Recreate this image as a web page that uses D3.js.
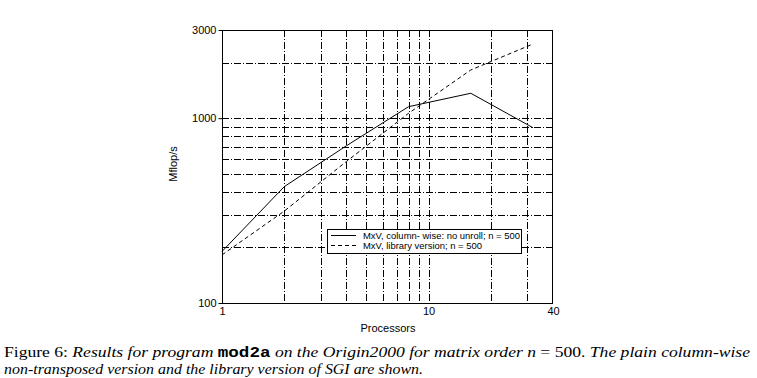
<!DOCTYPE html>
<html><head><meta charset="utf-8">
<script src="https://cdn.jsdelivr.net/npm/d3@7"></script>
<style>
html,body{margin:0;padding:0;background:#fff;}
svg{display:block;}
</style></head>
<body>
<script>
// ---- data ----
const processors = [1, 2, 4, 8, 16, 32];
const columnWise = [190, 426, 709, 1154, 1364, 888];
const libraryVersion = [182, 314, 583, 1063, 1823, 2520];
const seriesNames = ["MxV, column- wise: no unroll; n = 500", "MxV, library version; n = 500"];
const xTickLabels = [1, 10, 40];
const yTickLabels = [100, 1000, 3000];
const xGrid = [2, 3, 4, 5, 6, 7, 8, 9, 10, 20, 30];
const yGrid = [200, 300, 400, 500, 600, 700, 800, 900, 1000, 2000];

const W = 757, H = 378;
const svg = d3.select("body").append("svg").attr("width", W).attr("height", H);
svg.append("rect").attr("width", W).attr("height", H).attr("fill", "#fff");

const L = 222, R = 553, T = 30, B = 303;
const x = d3.scaleLog().domain([1, 40]).range([L, R]);
const y = d3.scaleLog().domain([100, 3000]).range([B, T]);
const sans = "'Liberation Sans', Arial, sans-serif";

// grid
const g = svg.append("g");
g.selectAll("line.h").data(yGrid).join("line")
  .attr("x1", L).attr("x2", R).attr("y1", d => Math.round(y(d)) + 0.5).attr("y2", d => Math.round(y(d)) + 0.5)
  .attr("stroke", "#000").attr("stroke-width", 1).attr("stroke-dasharray", "7,2,1,2");
g.selectAll("line.v").data(xGrid).join("line")
  .attr("y1", T).attr("y2", B).attr("x1", d => Math.round(x(d)) + 0.5).attr("x2", d => Math.round(x(d)) + 0.5)
  .attr("stroke", "#000").attr("stroke-width", 1).attr("stroke-dasharray", "7,2,1,2");

// frame
svg.append("rect").attr("x", L + 0.5).attr("y", T + 0.5).attr("width", R - L - 1).attr("height", B - T)
  .attr("fill", "none").attr("stroke", "#000").attr("stroke-width", 1);

// axes
const yAxis = d3.axisLeft(y).tickValues(yTickLabels).tickFormat(d3.format("d")).tickSize(4).tickPadding(2);
const ya = svg.append("g").attr("transform", `translate(${L + 0.5},0)`).call(yAxis);
ya.select(".domain").remove();
ya.selectAll("text").attr("font-family", sans).attr("font-size", 11).attr("fill", "#000");
ya.selectAll("line").attr("stroke", "#000");

const xAxis = d3.axisBottom(x).tickValues(xTickLabels).tickFormat(d3.format("d")).tickSize(0).tickPadding(4);
const xa = svg.append("g").attr("transform", `translate(0,${B + 0.5})`).call(xAxis);
xa.select(".domain").remove();
xa.selectAll("text").attr("font-family", sans).attr("font-size", 11).attr("fill", "#000");

// axis titles
svg.append("text").attr("x", 388).attr("y", 332).attr("text-anchor", "middle")
  .attr("font-family", sans).attr("font-size", 11).text("Processors");
svg.append("text").attr("transform", "translate(177,164) rotate(-90)").attr("text-anchor", "middle")
  .attr("font-family", sans).attr("font-size", 11).text("Mflop/s");

// lines
const line = d3.line().x(d => x(d[0])).y(d => y(d[1]));
svg.append("path").datum(processors.map((p, i) => [p, columnWise[i]]))
  .attr("d", line).attr("fill", "none").attr("stroke", "#000").attr("stroke-width", 1);
svg.append("path").datum(processors.map((p, i) => [p, libraryVersion[i]]))
  .attr("d", line).attr("fill", "none").attr("stroke", "#000").attr("stroke-width", 1)
  .attr("stroke-dasharray", "4,3");

// legend
const lg = svg.append("g");
lg.append("rect").attr("x", 327.5).attr("y", 229.5).attr("width", 194).attr("height", 24)
  .attr("fill", "#fff").attr("stroke", "#000");
const rowsY = [235.5, 245.5];
const dashes = [null, "4,3"];
const textW = [157, 119];
seriesNames.forEach((name, i) => {
  lg.append("line").attr("x1", 331).attr("x2", 356).attr("y1", rowsY[i]).attr("y2", rowsY[i])
    .attr("stroke", "#000").attr("stroke-dasharray", dashes[i]);
  lg.append("text").attr("x", 363).attr("y", rowsY[i] + 3).attr("font-family", sans).attr("font-size", 9)
    .attr("textLength", textW[i]).attr("lengthAdjust", "spacingAndGlyphs").text(name);
});

// caption
const serif = "'Liberation Serif', 'DejaVu Serif', serif";
const mono = "'Liberation Mono', 'DejaVu Sans Mono', monospace";
function caption(yPos, parts, targetW) {
  const t = svg.append("text").attr("x", 4).attr("y", yPos).attr("font-family", serif).attr("font-size", 14);
  parts.forEach(p => {
    const s = t.append("tspan").text(p.t);
    if (p.i) s.attr("font-style", "italic");
    if (p.m) s.attr("font-family", mono).attr("font-weight", "bold");
  });
  t.attr("textLength", targetW).attr("lengthAdjust", "spacingAndGlyphs");
}
caption(357, [
  {t: "Figure 6: "},
  {t: "Results for program ", i: true},
  {t: "mod2a", m: true},
  {t: " on the Origin2000 for matrix order ", i: true},
  {t: "n", i: true},
  {t: " = 500.  "},
  {t: "The plain column-wise", i: true}
], 746);
caption(374, [
  {t: "non-transposed version and the library version of SGI are shown.", i: true}
], 419);
</script>
</body></html>
